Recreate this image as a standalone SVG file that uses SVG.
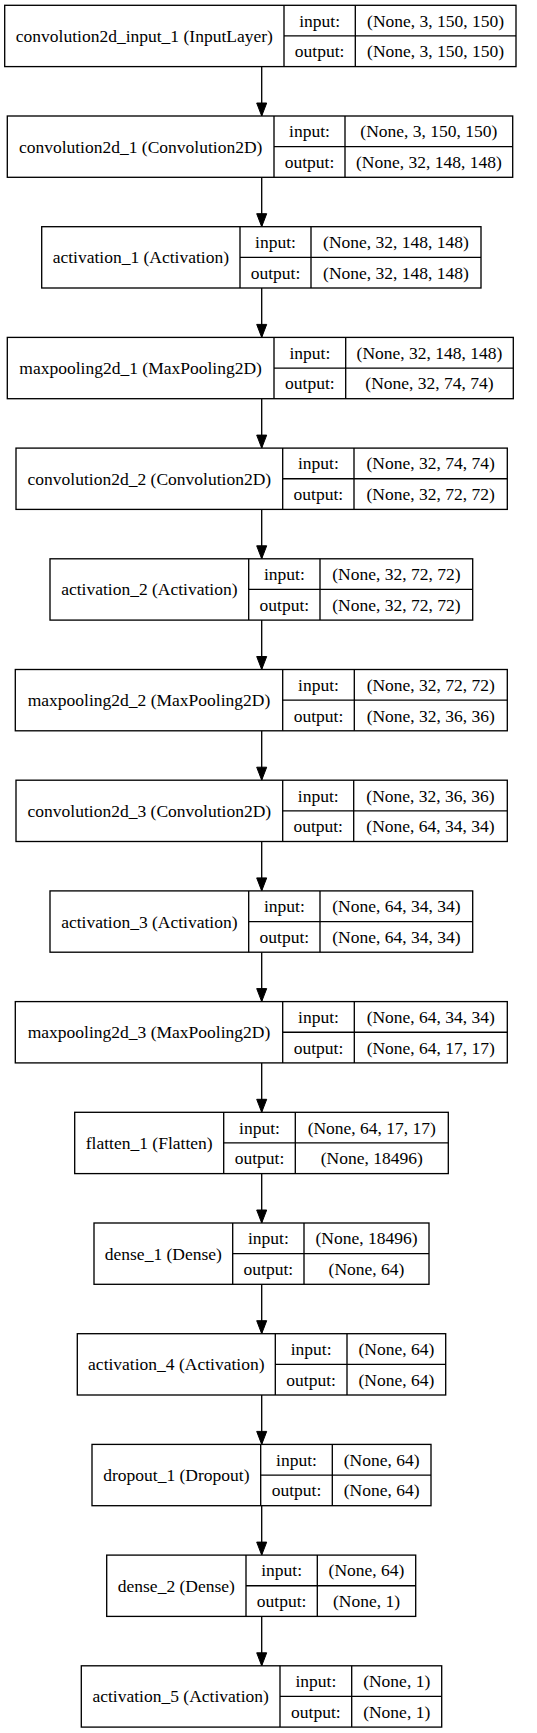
<svg xmlns="http://www.w3.org/2000/svg" width="537" height="1733" viewBox="0 0 537 1733">
<style>
.b{fill:#fff;stroke:#000;stroke-width:1.33}
.l{stroke:#000;stroke-width:1.33;fill:none}
text{font-family:"Liberation Serif","Times New Roman",serif;font-size:17.5px;fill:#000;text-anchor:middle}
.c{stroke:#000;stroke-width:1.33;fill:none;marker-end:url(#ah)}
</style>
<defs>
<marker id="ah" markerUnits="userSpaceOnUse" markerWidth="14" markerHeight="11" refX="13" refY="5" orient="auto" overflow="visible">
<path d="M0,0 L13,5 L0,10 z" fill="#000" stroke="#000" stroke-width="1"/>
</marker>
</defs>
<rect width="537" height="1733" fill="#fff"/>
<g id="connectors">
<path class="c" d="M261.7 66.6 V116"/>
<path class="c" d="M261.7 177.3 V226.7"/>
<path class="c" d="M261.7 288 V337.4"/>
<path class="c" d="M261.7 398.7 V448.1"/>
<path class="c" d="M261.7 509.4 V558.8"/>
<path class="c" d="M261.7 620.1 V669.5"/>
<path class="c" d="M261.7 730.8 V780.2"/>
<path class="c" d="M261.7 841.5 V890.9"/>
<path class="c" d="M261.7 952.2 V1001.6"/>
<path class="c" d="M261.7 1062.9 V1112.3"/>
<path class="c" d="M261.7 1173.6 V1223"/>
<path class="c" d="M261.7 1284.3 V1333.7"/>
<path class="c" d="M261.7 1395 V1444.4"/>
<path class="c" d="M261.7 1505.7 V1555.1"/>
<path class="c" d="M261.7 1616.4 V1665.8"/>
</g>
<g id="n0" transform="translate(0,5.3)">
<rect class="b" x="4.7" y="0" width="511.3" height="61.3"/>
<path class="l" d="M284 0V61.3M355.3 0V61.3M284 30.65H516"/>
<text x="144.35" y="36.7">convolution2d_input_1 (InputLayer)</text>
<text x="319.65" y="21.4">input:</text><text x="319.65" y="52">output:</text>
<text x="435.65" y="21.4">(None, 3, 150, 150)</text><text x="435.65" y="52">(None, 3, 150, 150)</text>
</g>
<g id="n1" transform="translate(0,116)">
<rect class="b" x="7.3" y="0" width="505.4" height="61.3"/>
<path class="l" d="M274 0V61.3M345 0V61.3M274 30.65H512.7"/>
<text x="140.65" y="36.7">convolution2d_1 (Convolution2D)</text>
<text x="309.5" y="21.4">input:</text><text x="309.5" y="52">output:</text>
<text x="428.85" y="21.4">(None, 3, 150, 150)</text><text x="428.85" y="52">(None, 32, 148, 148)</text>
</g>
<g id="n2" transform="translate(0,226.7)">
<rect class="b" x="41.7" y="0" width="439.3" height="61.3"/>
<path class="l" d="M240 0V61.3M311 0V61.3M240 30.65H481"/>
<text x="140.85" y="36.7">activation_1 (Activation)</text>
<text x="275.5" y="21.4">input:</text><text x="275.5" y="52">output:</text>
<text x="396" y="21.4">(None, 32, 148, 148)</text><text x="396" y="52">(None, 32, 148, 148)</text>
</g>
<g id="n3" transform="translate(0,337.4)">
<rect class="b" x="7.3" y="0" width="506" height="61.3"/>
<path class="l" d="M274 0V61.3M345.7 0V61.3M274 30.65H513.3"/>
<text x="140.65" y="36.7">maxpooling2d_1 (MaxPooling2D)</text>
<text x="309.85" y="21.4">input:</text><text x="309.85" y="52">output:</text>
<text x="429.5" y="21.4">(None, 32, 148, 148)</text><text x="429.5" y="52">(None, 32, 74, 74)</text>
</g>
<g id="n4" transform="translate(0,448.1)">
<rect class="b" x="16" y="0" width="491.3" height="61.3"/>
<path class="l" d="M282.7 0V61.3M354 0V61.3M282.7 30.65H507.3"/>
<text x="149.35" y="36.7">convolution2d_2 (Convolution2D)</text>
<text x="318.35" y="21.4">input:</text><text x="318.35" y="52">output:</text>
<text x="430.65" y="21.4">(None, 32, 74, 74)</text><text x="430.65" y="52">(None, 32, 72, 72)</text>
</g>
<g id="n5" transform="translate(0,558.8)">
<rect class="b" x="50" y="0" width="422.7" height="61.3"/>
<path class="l" d="M248.7 0V61.3M320 0V61.3M248.7 30.65H472.7"/>
<text x="149.35" y="36.7">activation_2 (Activation)</text>
<text x="284.35" y="21.4">input:</text><text x="284.35" y="52">output:</text>
<text x="396.35" y="21.4">(None, 32, 72, 72)</text><text x="396.35" y="52">(None, 32, 72, 72)</text>
</g>
<g id="n6" transform="translate(0,669.5)">
<rect class="b" x="15.3" y="0" width="492" height="61.3"/>
<path class="l" d="M282.7 0V61.3M354.3 0V61.3M282.7 30.65H507.3"/>
<text x="149" y="36.7">maxpooling2d_2 (MaxPooling2D)</text>
<text x="318.5" y="21.4">input:</text><text x="318.5" y="52">output:</text>
<text x="430.8" y="21.4">(None, 32, 72, 72)</text><text x="430.8" y="52">(None, 32, 36, 36)</text>
</g>
<g id="n7" transform="translate(0,780.2)">
<rect class="b" x="16" y="0" width="491.3" height="61.3"/>
<path class="l" d="M282.7 0V61.3M353.7 0V61.3M282.7 30.65H507.3"/>
<text x="149.35" y="36.7">convolution2d_3 (Convolution2D)</text>
<text x="318.2" y="21.4">input:</text><text x="318.2" y="52">output:</text>
<text x="430.5" y="21.4">(None, 32, 36, 36)</text><text x="430.5" y="52">(None, 64, 34, 34)</text>
</g>
<g id="n8" transform="translate(0,890.9)">
<rect class="b" x="50" y="0" width="422.7" height="61.3"/>
<path class="l" d="M248.7 0V61.3M320 0V61.3M248.7 30.65H472.7"/>
<text x="149.35" y="36.7">activation_3 (Activation)</text>
<text x="284.35" y="21.4">input:</text><text x="284.35" y="52">output:</text>
<text x="396.35" y="21.4">(None, 64, 34, 34)</text><text x="396.35" y="52">(None, 64, 34, 34)</text>
</g>
<g id="n9" transform="translate(0,1001.6)">
<rect class="b" x="15.3" y="0" width="492" height="61.3"/>
<path class="l" d="M282.7 0V61.3M354.3 0V61.3M282.7 30.65H507.3"/>
<text x="149" y="36.7">maxpooling2d_3 (MaxPooling2D)</text>
<text x="318.5" y="21.4">input:</text><text x="318.5" y="52">output:</text>
<text x="430.8" y="21.4">(None, 64, 34, 34)</text><text x="430.8" y="52">(None, 64, 17, 17)</text>
</g>
<g id="n10" transform="translate(0,1112.3)">
<rect class="b" x="74.7" y="0" width="373.6" height="61.3"/>
<path class="l" d="M223.7 0V61.3M295.3 0V61.3M223.7 30.65H448.3"/>
<text x="149.2" y="36.7">flatten_1 (Flatten)</text>
<text x="259.5" y="21.4">input:</text><text x="259.5" y="52">output:</text>
<text x="371.8" y="21.4">(None, 64, 17, 17)</text><text x="371.8" y="52">(None, 18496)</text>
</g>
<g id="n11" transform="translate(0,1223)">
<rect class="b" x="94" y="0" width="335" height="61.3"/>
<path class="l" d="M232.7 0V61.3M304 0V61.3M232.7 30.65H429"/>
<text x="163.35" y="36.7">dense_1 (Dense)</text>
<text x="268.35" y="21.4">input:</text><text x="268.35" y="52">output:</text>
<text x="366.5" y="21.4">(None, 18496)</text><text x="366.5" y="52">(None, 64)</text>
</g>
<g id="n12" transform="translate(0,1333.7)">
<rect class="b" x="77.3" y="0" width="368.4" height="61.3"/>
<path class="l" d="M275.3 0V61.3M347 0V61.3M275.3 30.65H445.7"/>
<text x="176.3" y="36.7">activation_4 (Activation)</text>
<text x="311.15" y="21.4">input:</text><text x="311.15" y="52">output:</text>
<text x="396.35" y="21.4">(None, 64)</text><text x="396.35" y="52">(None, 64)</text>
</g>
<g id="n13" transform="translate(0,1444.4)">
<rect class="b" x="92" y="0" width="339" height="61.3"/>
<path class="l" d="M260.7 0V61.3M332.3 0V61.3M260.7 30.65H431"/>
<text x="176.35" y="36.7">dropout_1 (Dropout)</text>
<text x="296.5" y="21.4">input:</text><text x="296.5" y="52">output:</text>
<text x="381.65" y="21.4">(None, 64)</text><text x="381.65" y="52">(None, 64)</text>
</g>
<g id="n14" transform="translate(0,1555.1)">
<rect class="b" x="106.7" y="0" width="309" height="61.3"/>
<path class="l" d="M246 0V61.3M317.3 0V61.3M246 30.65H415.7"/>
<text x="176.35" y="36.7">dense_2 (Dense)</text>
<text x="281.65" y="21.4">input:</text><text x="281.65" y="52">output:</text>
<text x="366.5" y="21.4">(None, 64)</text><text x="366.5" y="52">(None, 1)</text>
</g>
<g id="n15" transform="translate(0,1665.8)">
<rect class="b" x="81.3" y="0" width="360.4" height="61.3"/>
<path class="l" d="M280 0V61.3M351.7 0V61.3M280 30.65H441.7"/>
<text x="180.65" y="36.7">activation_5 (Activation)</text>
<text x="315.85" y="21.4">input:</text><text x="315.85" y="52">output:</text>
<text x="396.7" y="21.4">(None, 1)</text><text x="396.7" y="52">(None, 1)</text>
</g>
</svg>
